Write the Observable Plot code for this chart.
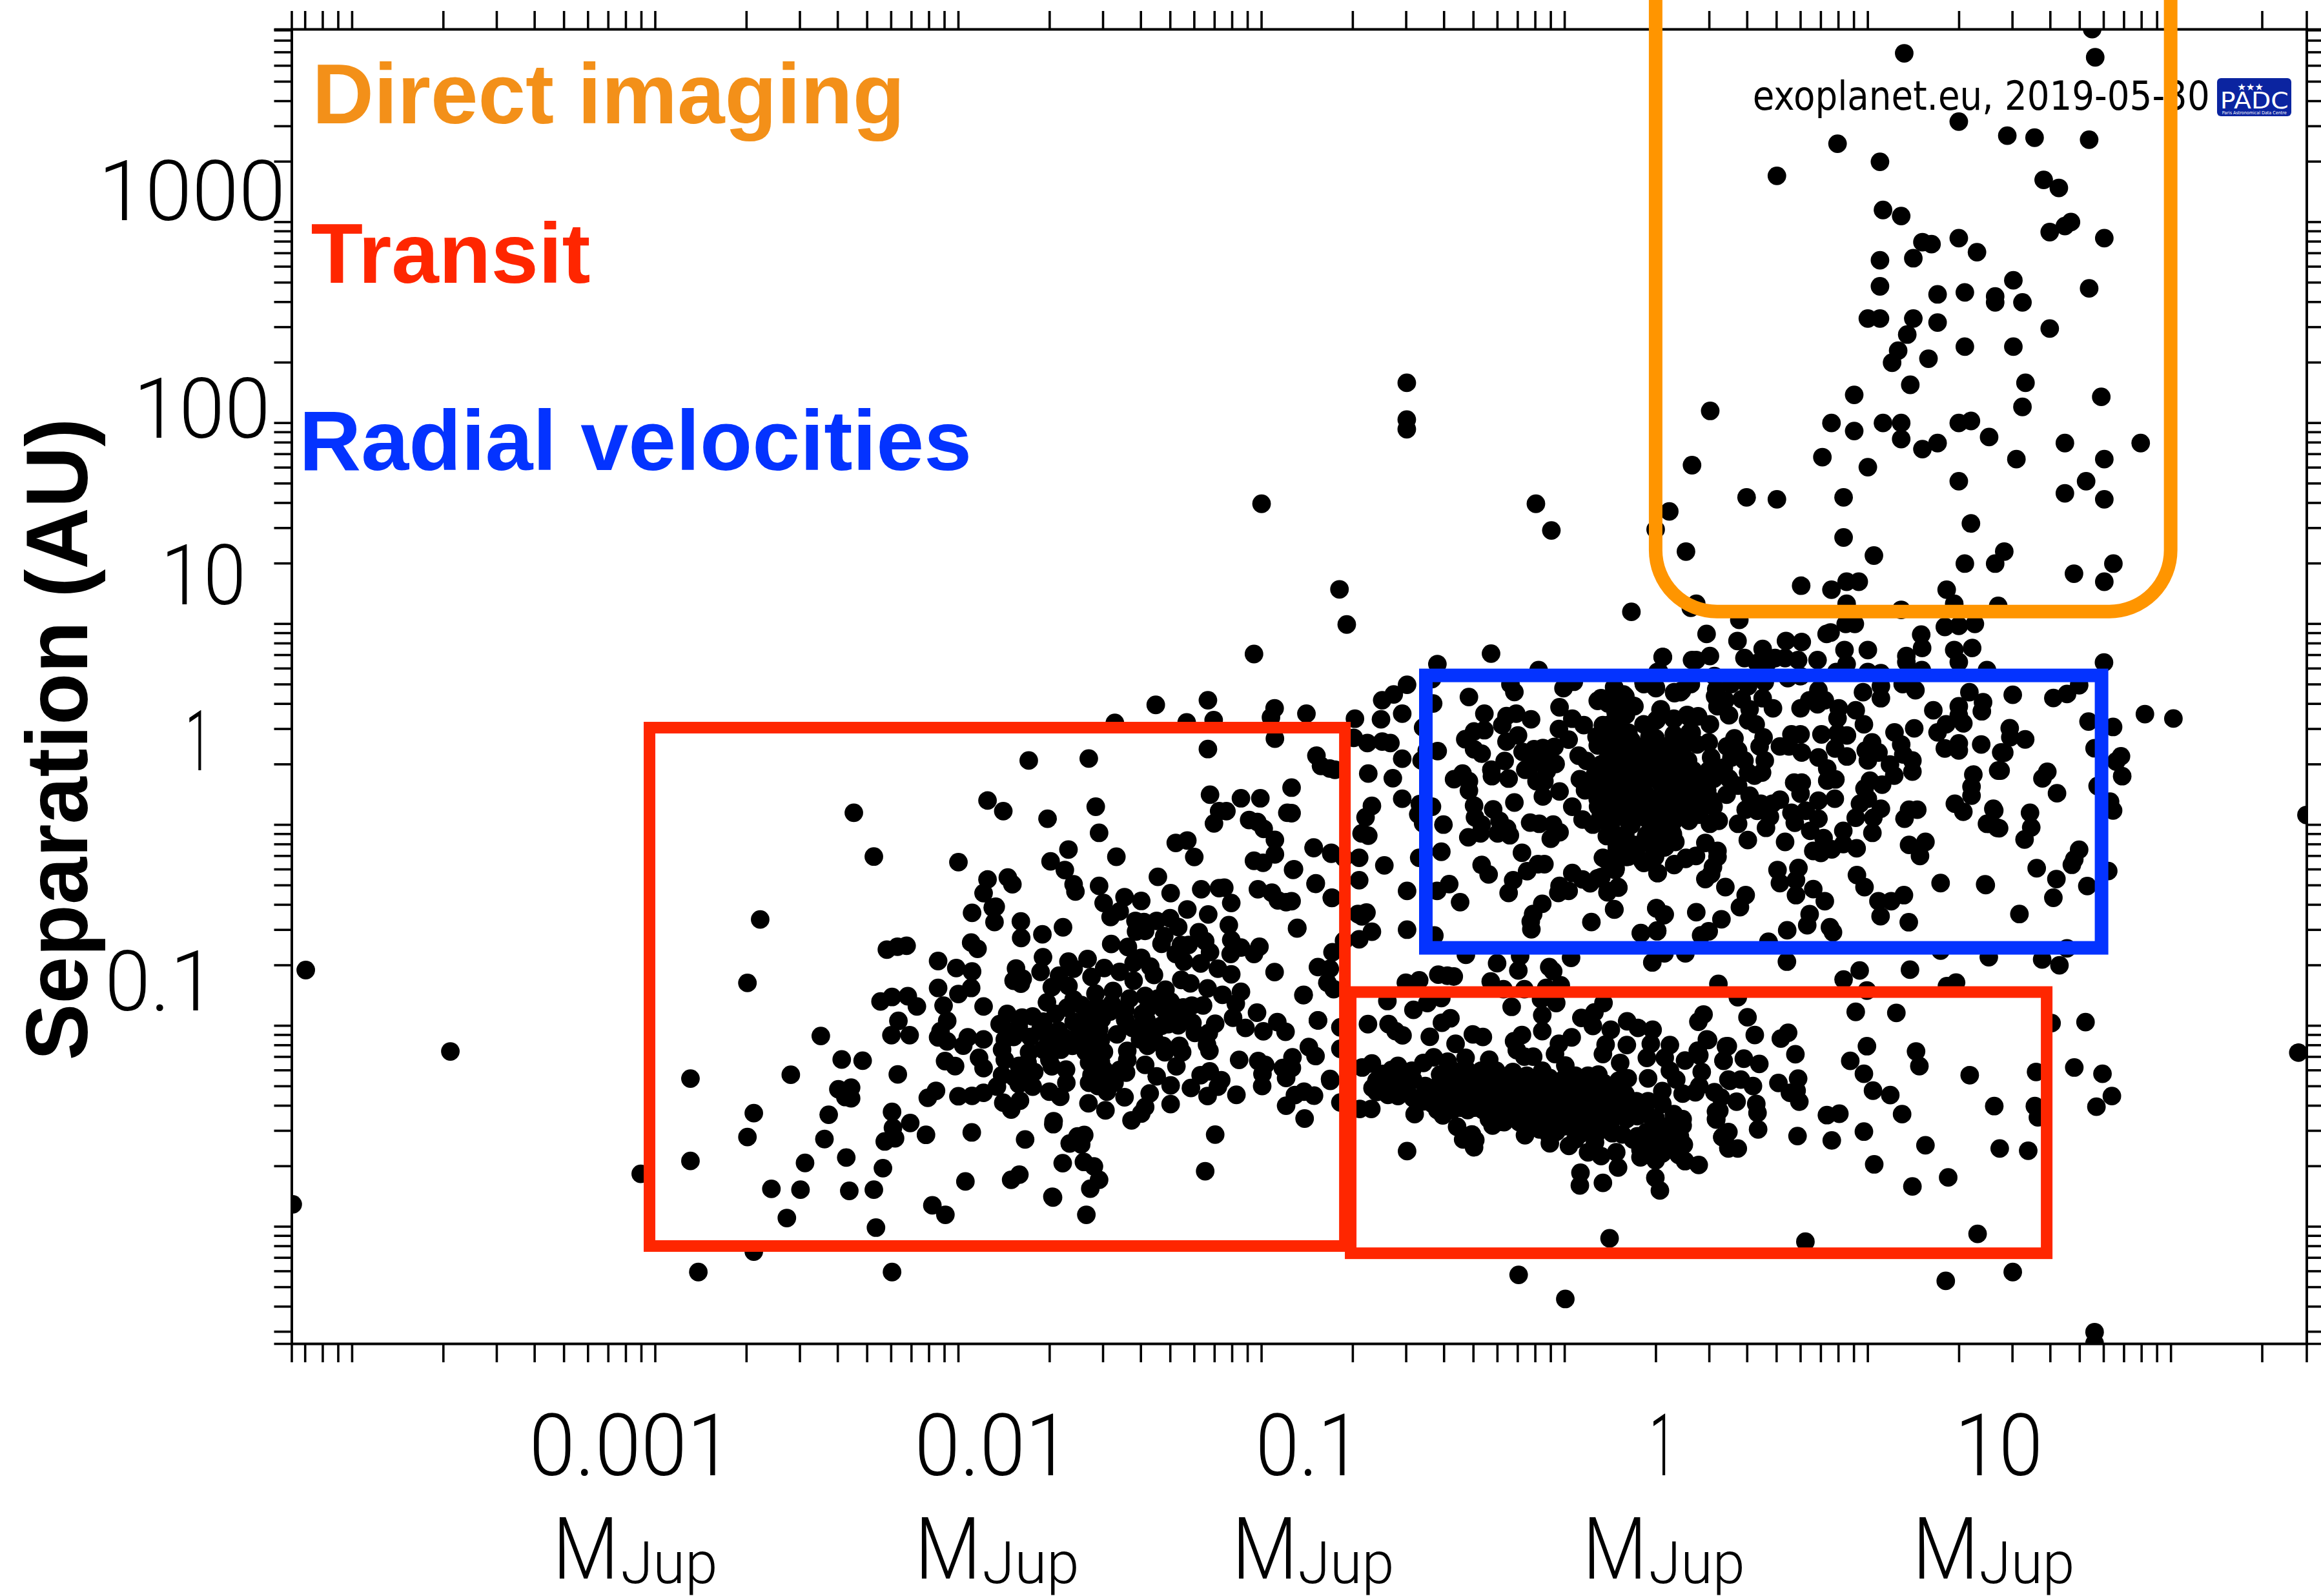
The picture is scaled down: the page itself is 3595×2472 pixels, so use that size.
<!DOCTYPE html>
<html>
<head>
<meta charset="utf-8">
<script src="https://cdn.jsdelivr.net/npm/d3@7"></script>
<script src="https://cdn.jsdelivr.net/npm/@observablehq/plot@0.6"></script>
<style>html,body{margin:0;padding:0;background:#fff}svg{display:block}</style>
</head>
<body>
<div id="chart"></div>
<script>
// Every planet: [log10 mass (MJup), log10 separation (AU)].
const wideOrbit = [[1.74,3.96],[1.12,3.84],[1.75,3.82],[1.30,3.50],[.90,3.39],[1.46,3.43],[1.55,3.42],[1.73,3.41],[1.04,3.30],[.70,3.23],[1.58,3.21],[1.63,3.17],[1.05,3.06],[1.11,3.03],[1.30,2.92],[1.18,2.90],[1.21,2.89],[1.60,2.95],[1.65,2.98],[1.67,3.00],[1.78,2.92],[1.36,2.85],[1.04,2.81],[1.15,2.82],[1.04,2.68],[1.48,2.71],[1.23,2.64],[1.32,2.65],[1.42,2.63],[1.42,2.60],[1.51,2.60],[1.73,2.67],[1.00,2.52],[1.04,2.52],[1.15,2.52],[1.23,2.50],[1.60,2.47],[1.13,2.44],[1.32,2.38],[1.48,2.38],[1.10,2.36],[1.20,2.32],[1.08,2.30],[1.14,2.19],[1.52,2.20],[.955,2.14],[1.77,2.13],[.48,2.06],[1.51,2.08],[.88,2.00],[1.05,2.00],[1.11,2.00],[1.30,2.00],[1.34,2.01],[.955,1.96],[1.40,1.93],[1.11,1.92],[1.23,1.90],[1.18,1.87],[1.65,1.90],[1.90,1.90],[.85,1.83],[1.49,1.82],[1.78,1.82],[.42,1.79],[1.00,1.78],[1.30,1.71],[1.72,1.71],[.60,1.63],[.70,1.62],[.92,1.63],[1.65,1.65],[1.78,1.62],[.345,1.56],[.30,1.47],[1.34,1.50],[.92,1.43],[.40,1.36],[1.02,1.34],[1.45,1.36],[1.42,1.30],[1.32,1.30],[1.81,1.30],[1.68,1.25],[.78,1.19],[.93,1.21],[.97,1.21],[.88,1.17],[1.78,1.21],[1.26,1.17]];
const scatteredMidSky = [[-.521,2.20],[-.521,2.017],[-.521,1.969],[-1.0,1.598],[-.095,1.598],[-.044,1.465],[-.743,1.172],[-.719,.997],[-1.025,.85],[-.957,.58],[-.969,.535],[-2.345,.06],[-2.279,-.158],[-1.904,.121],[-1.349,.597],[-1.177,.62],[-1.247,.51],[-1.158,.521],[-1.484,.507],[-1.177,.377],[-.956,.429],[-1.768,.32],[-1.57,.33],[-4.153,-.723],[-3.676,-1.128],[-3.048,-1.737],[-4.196,-1.889],[2.42,-1.134],[2.447,.049],[1.914,.551],[2.008,.529]];
const radialRight = [[.22,1.06],[.434,1.10],[.416,1.08],[.93,1.10],[1.11,1.07],[1.285,1.10],[1.43,1.09],[.576,1.02],[.927,1.00],[.957,1.00],[1.254,.985],[1.30,.99],[1.353,1.0],[.468,.95],[.57,.915],[.864,.95],[.877,.957],[.73,.915],[.782,.91],[1.176,.947],[1.179,.88],[1.127,.84],[1.127,.81],[.923,.87],[1.00,.87],[1.285,.87],[1.344,.88],[1.30,.81],[.323,.835],[.434,.82],[.479,.84],[.653,.875],[.593,.83],[.694,.83],[.727,.83],[.77,.82],[.834,.82],[.635,.805],[.668,.805],[.93,.80],[1.00,.76],[1.043,.755],[1.178,.77],[1.393,.77],[.306,.76],[.896,.76],[.494,.74],[.551,.73],[.736,.73],[.778,.74],[.984,.66],[1.043,.69],[1.043,.63],[1.115,.70],[1.157,.67],[1.335,.66],[1.38,.61],[1.376,.565],[1.30,.59],[1.30,.545],[1.315,.505],[1.258,.50],[1.23,.46],[1.254,.38],[1.30,.405],[1.30,.37],[1.374,.40],[1.216,.57],[1.153,.48],[1.088,.46],[1.11,.40],[1.117,.35],[1.147,.32],[1.147,.265],[1.087,.245],[1.073,.30],[1.014,.41],[.993,.37],[1.035,.36],[1.0,.32],[1.047,.20],[1.007,.22],[.989,.18],[1.0,.13],[.974,.105],[1.043,.08],[1.018,.035],[.96,.035],[1.015,-.04],[.919,-.03],[.963,-.117],[.919,-.096],[.881,-.122],[.845,-.14],[.82,-.13],[.854,-.066],[.81,-.03],[.837,.03],[.759,.01],[.748,.06],[.795,.07],[.837,.12],[.891,.13],[.778,.155],[.782,.21],[.757,.21],[.866,.22],[.893,.226],[.866,.28],[.837,.335],[.782,.36],[.74,.39],[.71,.39],[.748,.45],[.778,.45],[.847,.45],[.931,.445],[.892,.38],[.931,.34],[.90,.455],[.987,.50],[.96,.57],[.90,.53],[.904,.58],[.834,.60],[.778,.58],[.807,.62],[.858,.62],[.837,.67],[.687,.58],[.653,.63],[.584,.625],[.61,.575],[.605,.52],[.63,.50],[.656,.435],[.643,.39],[.56,.43],[.535,.39],[.572,.37],[.542,.545],[.504,.59],[.53,.62],[.496,.64],[.50,.675],[.549,.70],[.66,.71],[.605,.69]];
const radialCore = [[.416,.70],[.361,.66],[.382,.66],[.30,.685],[.26,.71],[.163,.685],[.12,.63],[.23,.59],[.20,.64],[.167,.59],[.192,.545],[.317,.575],[.302,.52],[.36,.525],[.407,.54],[.44,.54],[.479,.50],[.412,.46],[.28,.44],[.475,.41],[.437,.40],[.205,.46],[.171,.45],[.197,.40],[.138,.45],[.15,.50],[.344,.37],[.31,.36],[.268,.36],[.374,.35],[.407,.32],[.483,.335],[.55,.335],[.593,.32],[.525,.285],[.475,.27],[.424,.27],[.34,.31],[.29,.30],[.23,.32],[.18,.32],[.138,.32],[.205,.23],[.264,.245],[.18,.245],[.12,.21],[.315,.21],[.374,.22],[.433,.22],[.492,.23],[.542,.23],[.572,.195],[.605,.26],[.626,.245],[.651,.26],[.66,.32],[.61,.145],[.647,.105],[.685,.105],[.71,.125],[.534,.15],[.677,.04],[.664,-.015],[.572,.005],[.597,.075],[.635,.07],[.508,.02],[.479,.005],[.479,.13],[.491,.09],[.458,.09],[.416,.09],[.365,.12],[.332,.08],[.39,.055],[.433,.055],[.34,.015],[.29,.09],[.247,.155],[.197,.155],[.155,.155],[.121,.09],[.172,.07],[.247,.07],[.213,.005],[.146,.005],[.172,-.06],[.268,-.06],[.31,-.02],[.357,-.047],[.365,-.085],[.298,-.085],[.23,-.10],[.172,-.12],[.138,-.175],[.172,-.175],[.205,-.16],[.256,-.18],[.298,-.16],[.332,-.11],[.306,-.24],[.361,-.20],[.399,-.17],[.433,-.155],[.464,-.09],[.504,-.13],[.504,-.16],[.489,-.21],[.483,-.245],[.464,-.27],[.167,-.225],[.176,-.31],[.142,-.33],[.121,-.26],[.163,-.42]];
const radialCoreFill = [[.15,.38],[.2,.34],[.25,.3],[.3,.26],[.35,.25],[.4,.2],[.45,.18],[.15,.28],[.2,.27],[.25,.25],[.12,.15],[.17,.19],[.22,.18],[.27,.15],[.32,.15],[.37,.15],[.42,.14],[.47,.17],[.14,.05],[.19,.11],[.24,.11],[.29,.05],[.34,.08],[.39,.10],[.44,.05],[.14,.10],[.21,.04],[.27,.03],[.36,.02],[.41,.02],[.17,.47],[.22,.42],[.26,.5],[.18,.3],[.23,.35],[.27,.4],[.25,.2],[.3,.43],[.33,.35],[.36,.45],[.4,.42],[.12,.3],[.1,.25],[.15,.2],[.08,.18],[.11,.09],[.16,.05],[.22,.0],[.27,-.09],[.2,-.05],[.33,-.05],[.16,-.04]];
const radialLowerRight = [[.53,-.31],[.597,-.35],[.578,-.41],[.302,-.415],[.327,-.45],[.252,-.54],[.305,-.53],[.434,-.435],[.517,-.47],[.475,-.53],[.45,-.55],[.673,-.587],[.604,-.076],[.727,-.085],[.702,-.225],[.771,-.215],[.71,-.29],[.763,-.275],[.763,-.35],[.82,-.32],[.858,-.38],[.808,-.445],[.80,-.50],[.734,-.525],[.875,-.51],[.885,-.535],[.964,-.25],[.989,-.31],[1.035,-.38],[1.077,-.38],[1.119,-.35],[1.042,-.455],[1.135,-.485],[1.24,-.29],[1.389,-.30],[1.136,-.10],[1.19,-.085],[1.172,-.155],[1.121,.03],[1.136,.075],[1.163,.075],[1.287,.105],[1.315,.065],[1.342,.145],[1.342,.19],[1.348,.25],[1.414,.08],[1.40,.005],[1.427,-.015],[1.43,.27],[1.44,.36],[1.478,.647],[1.612,.631],[1.657,.651],[1.697,.695],[1.779,.808],[1.728,.514],[1.809,.487],[1.468,.481],[1.47,.436],[1.519,.425],[1.45,.359],[1.748,.381],[1.835,.341],[1.819,.315],[1.839,.242],[1.438,.27],[1.592,.264],[1.576,.231],[1.624,.157],[1.758,.193],[1.799,.115],[1.809,.071],[1.535,.06],[1.539,-.013],[1.517,-.073],[1.417,.071],[1.393,.005],[1.433,-.017],[1.697,-.124],[1.681,-.172],[1.673,-.199],[1.557,-.216],[1.622,-.27],[1.793,-.23],[1.724,-.305],[1.612,-.363],[1.50,-.444],[1.387,-.296]];
const edgeOfBlueBox = [[-.243,.852],[-.42,.80],[-.086,.77],[-.52,.697],[-.564,.649],[-.602,.62],[-.852,.553],[-.692,.528],[-.536,.553],[-.606,.525],[-.467,.484],[-.696,.433],[-.651,.407],[-.602,.414],[-.575,.407],[-.536,.329],[-.419,.367],[-.455,.37],[-.472,.32],[-.434,.604],[-.438,.725],[-.648,.255],[-.567,.232],[-.536,.13],[-.478,.103],[-.438,.09],[-.483,.052],[-.467,.007],[-.40,.001],[-.636,.094],[-.657,.037],[-.67,-.043],[-.648,-.054],[-.407,-.134],[-.48,-.164],[-.678,-.164],[-.595,-.202],[-.678,-.276],[-.52,-.329],[-.421,-.329],[-.381,-.295],[-.345,-.385],[-.682,-.444],[-.654,-.437],[-.669,-.456],[-.636,-.532],[-.678,-.57],[-.52,-.522],[-.43,-.551]];
const redBoxUpperRight = [[-.819,.344],[-.804,.293],[-.775,.28],[-.758,.274],[-.901,.185],[-.901,.058],[-.828,-.113],[-.77,-.139],[-.728,-.164],[-.893,-.221],[-.821,-.291],[-.768,-.364],[-.901,-.38],[-.882,-.513],[-.728,-.577],[-.766,-.634],[-.814,-.708],[-.775,-.717],[-.783,-.786],[-.762,-.818],[-.861,-.846],[-.814,-.974]];
const blueBoxLeft = [[-.316,.636],[-.265,.553],[-.265,.471],[-.299,.465],[-.328,.426],[-.299,.376],[-.274,.354],[-.179,.70],[-.166,.661],[-.004,.68],[.03,.712],[-.206,.496],[-.192,.541],[-.16,.553],[-.111,.525],[-.154,.445],[-.192,.414],[-.139,.363],[-.198,.318],[-.242,.274],[-.24,.242],[-.185,.23],[-.337,.255],[-.365,.227],[-.316,.217],[-.316,.17],[-.299,.096],[-.236,.077],[-.296,.037],[-.215,.02],[-.19,-.018],[-.181,-.052],[-.221,-.043],[-.278,-.043],[-.318,-.062],[-.274,.001],[-.166,.111],[-.072,.382],[-.101,.376],[-.034,.388],[-.059,.344],[-.093,.331],[-.03,.303],[-.13,.274],[-.101,.306],[-.059,.268],[-.067,.217],[-.093,.217],[-.017,.166],[-.072,.141],[-.017,.585],[.025,.528],[-.019,.477],[.063,.496],[.013,.424],[.046,.344],[.072,.318],[.05,.227],[.114,.217],[.067,.172],[.025,.09],[.059,.026],[.093,.001],[.109,.617],[.143,.604],[.164,.68],[.194,.649],[.227,.592],[.168,.56],[.202,.547],[.126,.496],[.105,.439],[.109,.395],[.143,.318],[.16,.445],[.21,.458],[.202,.382],[.168,.357],[.21,.293],[.177,.242],[.219,.217],[.185,.166],[.143,.153],[.109,.128],[.151,.103],[.193,.09],[.236,.141],[.278,.128],[.278,.23],[.253,.318],[.28,.439],[.303,.522],[.316,.572],[.36,.528],[.404,.547],[.419,.458],[.301,.68],[.261,.70],[.362,.655],[.387,.668],[.311,.763],[.324,.835],[.42,.82],[.345,.395],[.311,.382],[.387,.369],[.345,.306],[.387,.28],[.32,.242],[.362,.204],[.396,.179],[.337,.128],[.295,.065],[.244,.077],[.21,.039],[.16,.026],[.118,.039],[.215,.007],[.27,-.05],[.295,-.03],[.354,-.037],[.362,-.082],[.139,-.056],[.172,-.107],[.206,-.113],[.236,-.12],[.295,-.10],[.329,-.113],[.126,-.164],[.168,-.217],[.21,-.158],[.261,-.19],[.307,-.24],[.295,-.151],[.362,-.196],[.40,-.164],[.311,-.075]];
const blueBoxLowerLeft = [[-.114,.011],[-.084,.005],[-.038,.001],[-.017,-.037],[-.046,-.069],[-.141,-.139],[-.274,-.20],[-.251,-.247],[-.124,-.231],[-.088,-.196],[-.067,-.196],[-.17,-.276],[-.185,-.339],[.025,-.24],[-.017,-.304],[-.021,-.339],[.013,-.329],[.059,-.272],[.084,-.291],[.109,-.266],[.141,-.336],[.177,-.313],[.164,-.422],[.088,-.484],[-.074,-.393],[-.104,-.444],[-.112,-.482],[-.11,-.52],[.303,-.416],[.33,-.446],[.305,-.526],[.251,-.539]];
const betweenBoxes = [[-.326,-.647],[-.147,-.653],[-.223,-.689],[-.153,-.725],[-.051,-.708],[-.038,-.729],[.021,-.662],[.289,-.685],[.329,-.64],[.398,-.64],[-.417,-.746],[-.387,-.751],[-.366,-.755],[-.48,-.774],[-.524,-.786],[-.244,-.78],[-.202,-.818],[-.133,-.818],[-.061,-.812],[-.013,-.799],[.733,-.681],[1.24,-.626],[1.657,-.615],[1.399,-.659],[1.575,-.67],[1.632,-.699],[.973,-.725],[.92,-.77],[1.139,-.721],[1.261,-.803],[1.291,-.785],[.997,-.825],[.571,-.858],[.672,-.582]];
const hotJupiterUpper = [[-.585,-.877],[-.453,-.887],[-.407,-.862],[-.499,-.921],[-.649,-.992],[-.581,-.992],[-.558,-1.027],[-.535,-1.048],[-.445,-1.055],[-.405,-.985],[-.377,-.963],[-.175,-.906],[-.074,-.948],[-.074,-1.027],[-.078,-.868],[-.028,-.887],[.128,-.887],[.098,-.934],[.055,-.961],[.093,-1.001],[.152,-1.02],[.206,-.978],[.242,-1.011],[.29,-1.02],[.284,-1.09],[.205,-1.096],[.135,-1.094],[.126,-1.141],[.023,-1.058],[-.019,-1.09],[-.032,-1.141],[-.141,-1.046],[-.167,-1.077],[-.158,-1.122],[-.133,-1.154],[-.104,-1.154],[-.303,-1.043],[-.27,-1.056],[-.36,-1.09],[-.327,-1.16],[-.249,-1.169],[-.432,-1.157],[-.466,-1.185],[-.386,-1.179],[-.55,-1.20],[-.571,-1.22],[-.504,-1.224],[-.636,-1.188],[-.668,-1.208],[-.621,-1.274],[-.634,-1.31],[-.579,-1.287],[-.529,-1.274],[-.583,-1.344],[-.55,-1.35],[-.52,-1.325],[-.638,-1.414],[-.676,-1.414],[-.495,-1.44],[-.466,-1.376],[-.773,-1.274],[-.74,-1.008],[-.74,-1.115],[-.74,-1.382]];
const hotJupiterDense = [[-.411,-1.243],[-.369,-1.224],[-.327,-1.211],[-.276,-1.224],[-.226,-1.224],[-.171,-1.23],[-.125,-1.249],[-.074,-1.224],[.002,-1.198],[.035,-1.249],[.077,-1.249],[.111,-1.243],[-.419,-1.30],[-.377,-1.30],[-.327,-1.30],[-.276,-1.30],[-.226,-1.285],[-.175,-1.30],[-.125,-1.30],[-.074,-1.30],[-.024,-1.285],[.027,-1.30],[.077,-1.30],[.128,-1.285],[.178,-1.274],[-.436,-1.389],[-.394,-1.376],[-.344,-1.389],[-.293,-1.376],[-.243,-1.376],[-.192,-1.376],[-.142,-1.389],[-.091,-1.376],[-.04,-1.376],[.01,-1.376],[.061,-1.376],[.111,-1.363],[.162,-1.376],[.212,-1.40],[-.402,-1.446],[-.344,-1.408],[-.297,-1.408],[-.25,-1.465],[-.2,-1.44],[-.146,-1.414],[-.091,-1.465],[-.04,-1.452],[.01,-1.44],[.061,-1.465],[.111,-1.465],[.162,-1.44],[.204,-1.465],[-.238,-1.497],[-.207,-1.478],[-.083,-1.516],[-.028,-1.528],[-.049,-1.503],[.052,-1.516],[.103,-1.541],[.157,-1.535],[.19,-1.541]];
const hotJupiterFill = [[-.40,-1.26],[-.35,-1.26],[-.30,-1.26],[-.25,-1.26],[-.20,-1.26],[-.15,-1.26],[-.10,-1.26],[-.05,-1.26],[0,-1.26],[.05,-1.27],[.10,-1.27],[.15,-1.30],[-.40,-1.34],[-.35,-1.34],[-.30,-1.34],[-.25,-1.34],[-.20,-1.34],[-.15,-1.34],[-.10,-1.34],[-.05,-1.34],[0,-1.34],[.05,-1.34],[.10,-1.34],[.15,-1.34],[.20,-1.34],[-.37,-1.42],[-.32,-1.42],[-.27,-1.42],[-.22,-1.42],[-.17,-1.44],[-.12,-1.42],[-.07,-1.42],[-.02,-1.42],[.03,-1.42],[.08,-1.42],[.13,-1.42],[.18,-1.42],[-.2,-1.48],[-.15,-1.48],[-.10,-1.48],[-.05,-1.48],[0,-1.48],[.05,-1.48],[.10,-1.48],[.15,-1.48],[-.60,-1.24],[-.55,-1.27],[-.50,-1.27],[-.46,-1.3],[-.62,-1.33],[-.56,-1.31],[-.50,-1.36],[-.45,-1.36],[-.42,-1.42],[.24,-1.45],[.30,-1.46],[.34,-1.50],[.27,-1.60],[.33,-1.60],[.38,-1.55],[.30,-1.67],[.24,-1.55],[-.1,-1.5],[-.05,-1.55],[0,-1.5],[.05,-1.54],[.1,-1.58],[.15,-1.5]];
const hotJupiterRight = [[.183,-1.185],[.208,-1.262],[.271,-1.16],[.275,-1.262],[.33,-1.16],[.347,-1.096],[.397,-1.173],[.444,-1.147],[.473,-1.071],[.441,-.98],[.458,-.944],[.507,-.792],[.532,-1.103],[.524,-1.173],[.452,-1.23],[.347,-1.224],[.368,-1.268],[.444,-1.30],[.431,-1.331],[.494,-1.331],[.515,-1.357],[.545,-1.274],[.322,-1.325],[.389,-1.338],[.322,-1.389],[.237,-1.376],[.275,-1.376],[.271,-1.44],[.36,-1.44],[.389,-1.465],[.499,-1.427],[.499,-1.465],[.389,-1.497],[.317,-1.509],[.271,-1.528],[.225,-1.566],[.25,-1.617],[.305,-1.566],[.355,-1.566],[.393,-1.592],[.25,-1.655],[.284,-1.643],[.322,-1.636],[.376,-1.643],[.397,-1.674],[.442,-1.693],[.52,-1.554],[.54,-1.605],[.28,-1.566],[.17,-1.63],[.176,-1.706],[.12,-1.649],[.077,-1.63],[.014,-1.598],[.035,-1.566],[-.049,-1.585],[-.131,-1.545],[-.355,-1.503],[-.306,-1.541],[-.335,-1.566],[-.295,-1.569],[-.299,-1.605],[-.52,-1.624],[.052,-1.732],[.05,-1.795],[.126,-1.782],[.299,-1.757],[.314,-1.82],[.148,-2.058],[-.152,-2.24],[.002,-2.36]];
const hotJupiterMassive = [[.603,-.958],[.96,-.931],[1.094,-.936],[1.606,-.987],[1.718,-.982],[.627,-1.046],[.713,-1.064],[.737,-1.035],[.538,-1.102],[.469,-1.068],[.439,-1.124],[.761,-1.142],[.997,-1.102],[.942,-1.175],[1.159,-1.128],[1.17,-1.201],[.591,-1.164],[.642,-1.19],[.524,-1.175],[.987,-1.239],[1.336,-1.246],[1.555,-1.23],[1.681,-1.208],[1.774,-1.239],[.77,-1.263],[.705,-1.285],[.581,-1.268],[.54,-1.268],[.621,-1.30],[1.017,-1.323],[1.074,-1.345],[1.417,-1.40],[1.551,-1.40],[1.561,-1.456],[1.805,-1.35],[1.754,-1.403],[.743,-1.334],[.765,-1.323],[.774,-1.378],[.632,-1.389],[.636,-1.434],[.567,-1.378],[.51,-1.423],[.50,-1.467],[.865,-1.445],[.906,-1.438],[1.113,-1.44],[.638,-1.516],[.768,-1.549],[.881,-1.571],[.987,-1.527],[.54,-1.529],[.52,-1.555],[.54,-1.611],[.571,-1.611],[1.19,-1.595],[1.435,-1.611],[1.529,-1.622],[1.021,-1.69],[1.265,-1.755],[1.147,-1.80],[1.362,-2.036],[.794,-2.075],[1.257,-2.27],[1.478,-2.226],[1.748,-2.525],[1.748,-2.58]];
const lowMassLeft = [[-2.0,-.186],[-2.654,-.471],[-2.696,-.787],[-1.955,-.438],[-1.904,-.272],[-1.917,-.34],[-1.887,-.412],[-1.958,-.586],[-1.937,-.617],[-2.236,-.621],[-2.201,-.607],[-2.171,-.602],[-2.067,-.678],[-2.007,-.713],[-1.955,-.73],[-2.067,-.812],[-2.0,-.842],[-1.958,-.812],[-2.257,-.879],[-2.219,-.857],[-2.167,-.853],[-2.137,-.904],[-2.049,-.90],[-1.917,-.904],[-2.198,-.976],[-2.221,-1.047],[-2.161,-1.047],[-2.037,-.976],[-2.059,-1.027],[-2.067,-1.058],[-2.037,-1.078],[-1.969,-1.058],[-1.984,-1.099],[-1.917,-1.068],[-2.454,-1.051],[-2.385,-1.168],[-2.316,-1.174],[-2.553,-1.244],[-2.884,-1.263],[-2.2,-1.242],[-2.044,-1.176],[-2.011,-1.201],[-1.932,-1.16],[-1.917,-1.211],[-2.396,-1.316],[-2.354,-1.308],[-2.373,-1.355],[-2.354,-1.361],[-2.074,-1.324],[-2.101,-1.359],[-2.0,-1.351],[-1.955,-1.349],[-1.917,-1.334],[-2.675,-1.435],[-2.428,-1.443],[-2.219,-1.429],[-2.159,-1.484],[-2.216,-1.508],[-2.209,-1.56],[-2.243,-1.576],[-2.107,-1.543],[-1.956,-1.531],[-2.696,-1.554],[-2.442,-1.564],[-2.884,-1.673],[-2.37,-1.656],[-2.506,-1.683],[-2.249,-1.709],[-2.617,-1.812],[-2.521,-1.816],[-2.36,-1.822],[-2.279,-1.816],[-1.977,-1.775],[-2.566,-1.957],[-2.272,-2.005],[-2.086,-1.894],[-2.043,-1.941],[-2.675,-2.124],[-2.858,-2.226],[-2.219,-2.226],[-1.688,-1.855],[-1.578,-1.941]];
const transitUpper = [[-1.852,.068],[-1.706,.03],[-1.547,.09],[-1.536,-.04],[-1.17,.15],[-1.068,.132],[-1.004,.132],[-.915,.06],[-1.157,.007],[-1.14,.068],[-1.116,.068],[-1.041,.024],[-1.014,.014],[-.993,-.02],[-.956,-.075],[-.956,-.147],[-.995,-.189],[-1.025,-.179],[-.896,-.224],[-.828,-.116],[-.77,-.144],[-.822,-.294],[-.768,-.363],[-1.637,-.123],[-1.696,-.182],[-1.649,-.225],[-1.62,-.296],[-1.614,-.332],[-1.479,-.159],[-1.283,-.09],[-1.245,-.078],[-1.222,-.16],[-1.342,-.259],[-1.3,-.34],[-1.536,-.304],[-1.521,-.389],[-1.452,-.36],[-1.397,-.379],[-1.468,-.431],[-1.498,-.459],[-1.199,-.321],[-1.14,-.315],[-1.123,-.313],[-1.10,-.389],[-1.012,-.321],[-.966,-.338],[-.946,-.376],[-.919,-.385],[-1.245,-.421],[-1.176,-.446],[-.883,-.516],[-1.108,-.499],[-1.10,-.573],[-1.068,-.611],[-1.102,-.643],[-1.007,-.607],[-1.025,-.643],[-.957,-.733],[-1.416,-.478],[-1.388,-.484],[-1.346,-.478],[-1.302,-.465],[-1.414,-.531],[-1.384,-.528],[-1.321,-.554],[-1.33,-.592],[-1.496,-.593],[-1.441,-.608],[-1.275,-.509],[-1.207,-.535],[-1.186,-.579],[-1.17,-.634],[-1.266,-.598],[-1.241,-.598],[-1.283,-.643],[-1.256,-.681],[-1.201,-.69],[-1.144,-.716],[-1.10,-.744]];
const transitCore = [[-1.397,-.662],[-1.367,-.706],[-1.355,-.747],[-1.422,-.687],[-1.468,-.732],[-1.422,-.776],[-1.519,-.713],[-1.574,-.668],[-1.637,-.681],[-1.62,-.716],[-1.721,-.659],[-1.729,-.732],[-1.81,-.715],[-1.818,-.776],[-1.794,-.791],[-1.788,-.766],[-1.794,-.481],[-1.793,-.563],[-1.723,-.545],[-1.655,-.51],[-1.837,-.262],[-1.822,-.296],[-1.877,-.408],[-1.881,-.484],[-1.668,-.751],[-1.561,-.757],[-1.692,-.808],[-1.637,-.802],[-1.548,-.84],[-1.49,-.827],[-1.317,-.821],[-1.265,-.772],[-1.235,-.789],[-1.178,-.814],[-1.129,-.846],[-1.068,-.831],[-1.193,-.899],[-1.085,-.89],[-1.708,-.884],[-1.641,-.91],[-1.595,-.897],[-1.544,-.903],[-1.494,-.89],[-1.435,-.865],[-1.384,-.852],[-1.342,-.865],[-1.258,-.909],[-1.376,-.916],[-1.325,-.916],[-1.839,-.941],[-1.755,-.954],[-1.679,-.941],[-1.578,-.954],[-1.527,-.967],[-1.393,-.941],[-1.292,-.954],[-1.228,-.986],[-1.153,-.99],[-1.094,-.96],[-1.015,-.935],[-.948,-.982],[-.814,-.973],[-.862,-.848],[-1.864,-.992],[-1.801,-1.005],[-1.729,-1.017],[-1.67,-1.024],[-1.569,-1.017],[-1.536,-1.017],[-1.477,-1.043],[-1.426,-1.011],[-1.376,-1.03],[-1.308,-.992],[-1.275,-.998],[-1.22,-1.036],[-1.174,-1.036],[-1.053,-1.011],[-.994,-1.028],[-.921,-1.03],[-1.847,-1.068],[-1.818,-1.056],[-1.763,-1.056],[-1.704,-1.068],[-1.586,-1.062],[-1.401,-1.068],[-1.355,-1.062],[-1.376,-1.10],[-1.325,-1.10],[-1.271,-1.10],[-1.18,-1.094],[-1.721,-1.119],[-1.662,-1.119],[-1.624,-1.10],[-1.544,-1.113],[-1.856,-1.119],[-1.767,-1.132],[-1.319,-1.132],[-1.262,-1.132],[-1.172,-1.125],[-1.443,-1.125],[-.844,-1.106],[-.822,-1.151]];
const transitCoreFill = [[-1.62,-.87],[-1.56,-.93],[-1.5,-.93],[-1.45,-.92],[-1.62,-.98],[-1.6,-1.03],[-1.53,-1.07],[-1.52,-1.13],[-1.58,-1.13],[-1.65,-1.06],[-1.7,-1.17],[-1.72,-.98],[-1.79,-.96],[-1.8,-1.2],[-1.75,-1.23],[-1.53,-1.18],[-1.5,-1.27],[-1.35,-.88],[-1.3,-.88],[-1.38,-.97],[-1.33,-1.0],[-1.26,-.96],[-1.23,-.9],[-1.83,-1.03],[-1.55,-1.25],[-1.54,-1.3],[-1.45,-.97]];
const transitLower = [[-1.847,-1.17],[-1.772,-1.183],[-1.569,-1.183],[-1.443,-1.17],[-1.384,-1.195],[-1.281,-1.202],[-1.074,-1.17],[-1.011,-1.176],[-.988,-1.195],[-.898,-1.157],[-.93,-1.21],[-.90,-1.21],[-1.171,-1.227],[-1.201,-1.246],[-1.692,-1.202],[-1.645,-1.218],[-1.519,-1.22],[-1.468,-1.22],[-1.447,-1.233],[-1.856,-1.246],[-1.814,-1.26],[-1.772,-1.26],[-1.561,-1.246],[-1.346,-1.252],[-.997,-1.24],[-.919,-1.26],[-1.133,-1.271],[-1.873,-1.303],[-1.801,-1.29],[-1.755,-1.303],[-1.644,-1.284],[-1.569,-1.284],[-1.485,-1.284],[-1.30,-1.297],[-1.233,-1.31],[-.998,-1.3],[-1.144,-1.303],[-.774,-1.265],[-1.70,-1.328],[-1.51,-1.328],[-1.369,-1.337],[-1.178,-1.35],[-1.083,-1.344],[-.89,-1.345],[-.86,-1.328],[-.827,-1.348],[-1.664,-1.354],[-1.452,-1.356],[-1.797,-1.373],[-1.852,-1.383],[-1.571,-1.386],[-1.826,-1.417],[-1.384,-1.405],[-1.397,-1.437],[-1.515,-1.421],[-1.30,-1.39],[-.919,-1.398],[-.858,-1.462],[-1.429,-1.471],[-1.686,-1.475],[-1.687,-1.49],[-1.78,-1.566],[-1.585,-1.544],[-1.607,-1.551],[-1.633,-1.586],[-1.595,-1.591],[-1.153,-1.542],[-1.656,-1.684],[-1.586,-1.678],[-1.553,-1.70],[-1.536,-1.767],[-1.186,-1.724],[-1.799,-1.741],[-1.826,-1.767],[-1.565,-1.811],[-1.69,-1.851]];

// Detection-method boxes: [log mass 1, log mass 2, log sep 1, log sep 2]
const directBox = [.301, 2.0, 1.06, 4.9];
const radialBox = [-.457, 1.772, .742, -.614];
const transitBoxLow = [-3.018, -.724, .482, -2.098];
const transitBoxHigh = [-.705, 1.591, -.834, -2.134];

const massExtent = [-4.199, 2.448];
const sepExtent = [-2.5835, 3.959];
const minorSteps = [1, 2, 3, 4, 5, 6, 7, 8, 9];
const massDecades = [-5, -4, -3, -2, -1, 0, 1, 2];
const sepDecades = [-3, -2, -1, 0, 1, 2, 3];

const xValueLabels = ["0.001", "0.01", "0.1", "1", "10"];
const xValueAt = [-3.08, -1.887, -.845, .322, 1.432];
const xUnitAt = [-3.338, -2.143, -1.097, .06, 1.148];
const xSubAt = [-3.114, -1.921, -.88, .277, 1.367];
const yValueLabels = ["1000", "100", "10", "1", "0.1"];
const yLabelMass = [-4.22, -4.27, -4.35, -4.465, -4.45];
const yLabelSep = [3.008, 1.928, 1.096, .273, -.925];
const methodNames = ["Direct imaging", "Transit", "Radial velocities"];
const methodColors = ["#F39019", "#FF2600", "#0433FF"];
const methodMass = [-4.132, -4.136, -4.175];
const methodSep = [3.49, 2.699, 1.767];

const planets = [wideOrbit, scatteredMidSky, radialRight, radialCore, radialCoreFill, radialLowerRight, edgeOfBlueBox,
  redBoxUpperRight, blueBoxLeft, blueBoxLowerLeft, betweenBoxes, hotJupiterUpper, hotJupiterDense, hotJupiterFill,
  hotJupiterRight, hotJupiterMassive, lowMassLeft, transitUpper, transitCore, transitCoreFill, transitLower]
  .flat().map(([m, s]) => ({mass: 10 ** m, sep: 10 ** s}));

const ten = v => 10 ** v;
const xDomain = massExtent.map(ten), yDomain = sepExtent.map(ten);
const inside = d => v => v >= d[0] && v <= d[1];
const xTicks = massDecades.flatMap(e => minorSteps.map(k => k * 10 ** e)).filter(inside(xDomain)).concat(xDomain);
const yTicks = sepDecades.flatMap(e => minorSteps.map(k => k * 10 ** e)).filter(inside(yDomain)).concat(yDomain);

const box = ([a, b, c, d], stroke, strokeWidth, rx) => Plot.rect([{}], {
  x1: () => ten(a), x2: () => ten(b), y1: () => ten(c), y2: () => ten(d),
  fill: "none", stroke, strokeWidth, rx
});
const light = "Roboto, 'Liberation Sans', sans-serif";
const bold = "'Liberation Sans', Arial, sans-serif";
const zip = (labels, xs, ys) => labels.map((t, i) => ({t, x: ten(xs[i]), y: ten(ys[i])}));
const label = (rows, o) => Plot.text(rows, {x: "x", y: "y", text: "t", lineAnchor: "bottom", ...o});
const tickAxis = (f, anchor, ticks, tickSize) => f({anchor, ticks, tickSize, fill: "none", stroke: "black", strokeWidth: 3.6, label: null, strokeOpacity: 1});

const plot = Plot.plot({
  width: 3595, height: 2472,
  marginLeft: 451.5, marginRight: 22.5, marginTop: 45, marginBottom: 391,
  style: {background: "#fff", overflow: "hidden"},
  x: {type: "log", domain: xDomain, axis: null},
  y: {type: "log", domain: yDomain, axis: null},
  marks: [
    Plot.dot(planets, {x: "mass", y: "sep", r: 14.4, fill: "black", clip: "frame"}),
    Plot.frame({stroke: "black", strokeWidth: 4}),
    tickAxis(Plot.axisX, "bottom", xTicks, 29),
    tickAxis(Plot.axisX, "top", xTicks, 29),
    tickAxis(Plot.axisY, "left", yTicks, 27),
    tickAxis(Plot.axisY, "right", yTicks, 27),
    label(zip(["Separation (AU)"], [-4.875], [-1.173]), {rotate: -90, textAnchor: "start", fontSize: 135, fontWeight: 700, fontFamily: bold, fill: "black", className: "ylab-title"}),
    label(zip(xValueLabels, xValueAt, xValueLabels.map(() => -3.236)), {fontSize: 133, fontWeight: 300, fontFamily: light, fill: "black", className: "x-values"}),
    label(zip(xValueLabels.map(() => "M"), xUnitAt, xUnitAt.map(() => -3.75)), {textAnchor: "start", fontSize: 133, fontWeight: 300, fontFamily: light, fill: "black", className: "x-unit"}),
    label(zip(xValueLabels.map(() => "Jup"), xSubAt, xSubAt.map(() => -3.775)), {textAnchor: "start", fontSize: 91, fontWeight: 300, fontFamily: light, fill: "black", className: "x-sub"}),
    label(zip(yValueLabels, yLabelMass, yLabelSep), {textAnchor: "end", fontSize: 130, fontWeight: 300, fontFamily: light, fill: "black", className: "y-values"}),
    ...methodNames.map((name, i) => label(zip([name], [methodMass[i]], [methodSep[i]]), {textAnchor: "start", fontSize: 131, fontWeight: 700, fontFamily: bold, fill: methodColors[i], className: "method-" + i})),
    label(zip(["exoplanet.eu, 2019-05-30"], [.62], [3.56]), {textAnchor: "start", fontSize: 62, fontFamily: "'DejaVu Sans', sans-serif", fill: "black", className: "stamp"}),
    Plot.rect([{}], {x1: () => ten(2.153), x2: () => ten(2.398), y1: () => ten(3.715), y2: () => ten(3.525), fill: "#0B24A0", rx: 6}),
    label(zip(["PADC"], [2.275], [3.565]), {fontSize: 36, fontFamily: "'DejaVu Sans', sans-serif", fill: "white", className: "logo"}),
    label(zip(["★★★"], [2.262], [3.655]), {fontSize: 15, fontFamily: "'DejaVu Sans', sans-serif", fill: "white"}),
    label(zip(["Paris Astronomical Data Centre"], [2.275], [3.535]), {fontSize: 7, fontFamily: "'DejaVu Sans', sans-serif", fill: "white", className: "logo-small"}),
    box(transitBoxLow, "#FF2600", 18),
    box(transitBoxHigh, "#FF2600", 18),
    box(radialBox, "#0433FF", 21),
    box(directBox, "#FF9500", 21, 95)
  ]
});

// Squeeze each text to the width it has in the reference.
const widths = {
  "x-values": [316, 242, 164, 40, 136],
  "x-unit": [102, 102, 101, 99, 102],
  "x-sub": [150, 150, 149, 149, 148],
  "y-values": [290, 212, 132, 40, 172],
  "ylab-title": [995],
  "method-0": [918],
  "method-1": [433],
  "method-2": [1042],
  "stamp": [708],
  "logo": [106],
  "logo-small": [100]
};
for (const [cls, list] of Object.entries(widths)) {
  plot.querySelectorAll("." + cls + " text").forEach((el, i) => {
    el.setAttribute("textLength", list[i]);
    el.setAttribute("lengthAdjust", "spacingAndGlyphs");
  });
}
document.getElementById("chart").append(plot);
</script>
</body>
</html>
